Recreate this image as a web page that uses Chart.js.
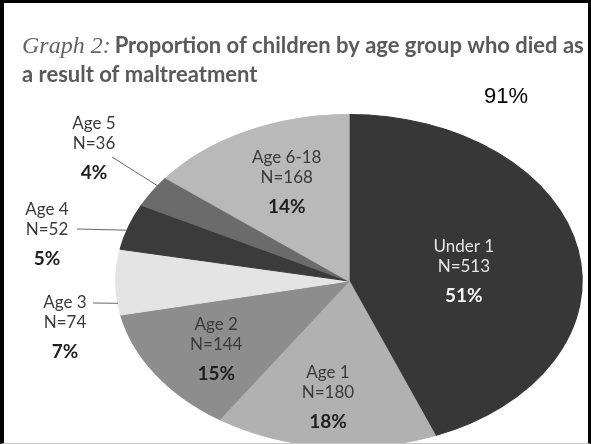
<!DOCTYPE html>
<html>
<head>
<meta charset="utf-8">
<script src="https://cdn.jsdelivr.net/npm/chart.js@4.4.1/dist/chart.umd.min.js"></script>
<style>
  html, body { margin: 0; padding: 0; background: #fff; }
  #frame { position: relative; width: 591px; height: 443px; overflow: hidden; }
  #plot { position: absolute; left: 0; top: 0; width: 591px; height: 480px; }
  #edge {
    position: absolute; left: 0; top: 0; width: 591px; height: 444px; box-sizing: border-box;
    border-left: 4px solid #000; border-top: 3px solid #000; border-right: 3px solid #000;
    border-bottom: 1px solid #c8c8c8; pointer-events: none;
  }
</style>
</head>
<body>
<div id="frame">
  <div id="plot"><canvas id="pie"></canvas></div>
</div>
<div id="edge"></div>
<script>
// data
const ageGroups = ["Under 1", "Age 1", "Age 2", "Age 3", "Age 4", "Age 5", "Age 6-18"];
const deaths = [513, 180, 144, 74, 52, 36, 168];
const shares = ["51%", "18%", "15%", "7%", "5%", "4%", "14%"];
const sliceColors = ["#373737", "#b1b1b1", "#8d8d8d", "#e4e4e4", "#3b3b3b", "#6b6b6b", "#b9b9b9"];

const titleLead = "Graph 2:";
const titleLines = ["Proportion of children by age group who died as", "a result of maltreatment"];
const cornerNote = "91%";

// pie is drawn squashed into an ellipse
const STRETCH = 1.4;

// where each label goes: inside a slice (t along the slice, f of the radius)
// or outside with a leader line
const labelPlacement = [
  { t: 0.507, f: 0.5, light: true },
  { t: 0.53, f: 0.675 },
  { t: 0.5, f: 0.687 },
  { out: [65, 323], from: [93, 303], t: 0.18 },
  { out: [47, 230], from: [77, 229], t: 0.42 },
  { out: [94, 144], from: [112, 157], t: 0.7 },
  { t: 0.55, f: 0.675 },
];

function onArc(arc, t, f) {
  const a = arc.startAngle + (arc.endAngle - arc.startAngle) * t;
  return [
    arc.x + Math.cos(a) * arc.outerRadius * f * STRETCH,
    arc.y + Math.sin(a) * arc.outerRadius * f,
  ];
}

const ellipse = {
  id: "ellipse",
  beforeDatasetsDraw(chart) {
    const arc = chart.getDatasetMeta(0).data[0];
    const ctx = chart.ctx;
    ctx.save();
    ctx.translate(arc.x, 0);
    ctx.scale(STRETCH, 1);
    ctx.translate(-arc.x, 0);
  },
  afterDatasetsDraw(chart) {
    chart.ctx.restore();
  },
};

const texts = {
  id: "texts",
  afterDraw(chart) {
    const ctx = chart.ctx;
    const arcs = chart.getDatasetMeta(0).data;
    ctx.save();

    // title
    ctx.textBaseline = "alphabetic";
    ctx.textAlign = "left";
    ctx.font = "italic 24px 'Liberation Serif'";
    ctx.fillStyle = "#626262";
    ctx.fillText(titleLead, 22, 53);
    const lead = ctx.measureText(titleLead + " ").width;
    ctx.font = "bold 22px Lato";
    ctx.fillStyle = "#5a5a5a";
    ctx.fillText(titleLines[0], 20 + lead, 53);
    ctx.fillText(titleLines[1], 22, 82);

    ctx.font = "22px 'Liberation Sans'";
    ctx.fillStyle = "#000";
    ctx.fillText(cornerNote, 484, 103);

    // slice labels
    ctx.textAlign = "center";
    ctx.textBaseline = "middle";
    arcs.forEach((arc, i) => {
      const p = labelPlacement[i];
      let x, y;
      if (p.out) {
        [x, y] = p.out;
        const end = onArc(arc, p.t, 1);
        ctx.strokeStyle = "#666";
        ctx.lineWidth = 1;
        ctx.beginPath();
        ctx.moveTo(p.from[0], p.from[1]);
        ctx.lineTo(end[0], end[1]);
        ctx.stroke();
      } else {
        [x, y] = onArc(arc, p.t, p.f);
      }
      ctx.font = "17px Lato";
      ctx.fillStyle = p.light ? "#e6e6e6" : "#3a3a3a";
      ctx.fillText(ageGroups[i], x, y - 20);
      ctx.fillText("N=" + deaths[i], x, y);
      ctx.font = "bold 19px Lato";
      ctx.fillStyle = p.light ? "#f4f4f4" : "#1e1e1e";
      ctx.fillText(shares[i], x, y + 29);
    });
    ctx.restore();
  },
};

new Chart(document.getElementById("pie"), {
  type: "pie",
  data: {
    labels: ageGroups,
    datasets: [
      {
        data: deaths,
        backgroundColor: sliceColors,
        borderColor: sliceColors,
        borderWidth: 1,
        clip: false,
      },
    ],
  },
  options: {
    responsive: true,
    maintainAspectRatio: false,
    animation: false,
    events: [],
    layout: { padding: { top: 114, bottom: 32, left: 182, right: 75 } },
    plugins: {
      legend: { display: false },
      tooltip: { enabled: false },
    },
  },
  plugins: [ellipse, texts],
});
</script>
</body>
</html>
